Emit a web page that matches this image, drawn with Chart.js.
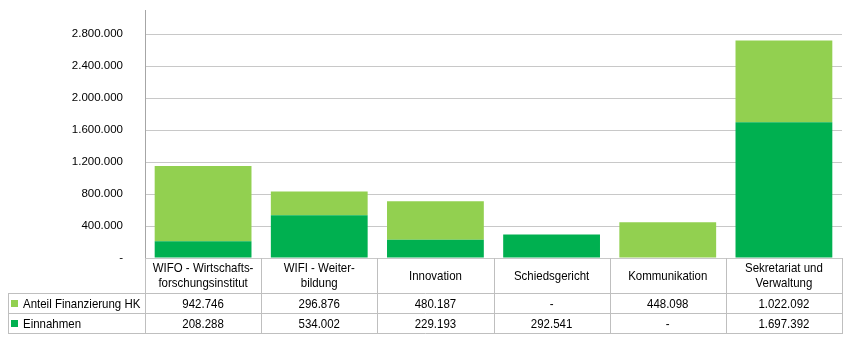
<!DOCTYPE html>
<html>
<head>
<meta charset="utf-8">
<script src="https://cdn.jsdelivr.net/npm/chart.js@4/dist/chart.umd.min.js"></script>
<style>
  html, body { margin: 0; padding: 0; background: #fff; }
  canvas { display: block; }
</style>
</head>
<body>
<canvas id="chart" width="850" height="342"></canvas>
<script>
const categories = [
    ['WIFO - Wirtschafts-', 'forschungsinstitut'],
    ['WIFI - Weiter-', 'bildung'],
    ['Innovation'],
    ['Schiedsgericht'],
    ['Kommunikation'],
    ['Sekretariat und', 'Verwaltung']
];
const anteilHK = [942746, 296876, 480187, null, 448098, 1022092];
const einnahmen = [208288, 534002, 229193, 292541, null, 1697392];
const yTicks = [0, 400000, 800000, 1200000, 1600000, 2000000, 2400000, 2800000];
const yMax = 3100000;

const lightGreen = '#92D050';
const darkGreen = '#00B050';
const lineGrey = '#BFBFBF';

function hasFont(name) {
    let c = document.createElement('canvas').getContext('2d');
    c.font = '40px monospace';
    let w1 = c.measureText('abcdefgWMil123').width;
    c.font = '40px "' + name + '", monospace';
    return c.measureText('abcdefgWMil123').width !== w1;
}

const narrow = hasFont('Liberation Sans Narrow');
const family = narrow ? '"Liberation Sans Narrow"' : '"Liberation Sans", Arial';
const tableSize = 13.5;
const squeeze = narrow ? 1 : 0.85;

function fmt(v) {
    if (v === null || v === 0) return '-';
    return String(v).replace(/\B(?=(\d{3})+(?!\d))/g, '.');
}

function text(ctx, str, x, y, align) {
    ctx.save();
    ctx.translate(x, y);
    ctx.scale(squeeze, 1);
    ctx.textAlign = align;
    ctx.fillText(str, 0, 0);
    ctx.restore();
}

const tablePlugin = {
    id: 'dataTable',
    afterDraw(chart) {
        const ctx = chart.ctx;
        const x = chart.scales.x;
        const ca = chart.chartArea;
        const colW = x.getPixelForValue(1) - x.getPixelForValue(0);
        const top = Math.round(ca.bottom);
        const headBottom = top + 35;
        const row1Bottom = headBottom + 20;
        const row2Bottom = row1Bottom + 20;
        const tableLeft = 8;

        ctx.save();
        ctx.strokeStyle = lineGrey;
        ctx.lineWidth = 1;
        ctx.beginPath();
        [headBottom, row1Bottom, row2Bottom].forEach(function (y) {
            ctx.moveTo(tableLeft, y + 0.5);
            ctx.lineTo(Math.round(ca.right) + 1, y + 0.5);
        });
        ctx.moveTo(tableLeft + 0.5, headBottom);
        ctx.lineTo(tableLeft + 0.5, row2Bottom + 1);
        for (let i = 0; i <= categories.length; i++) {
            let bx = Math.round(x.getPixelForValue(i) - colW / 2);
            ctx.moveTo(bx + 0.5, top);
            ctx.lineTo(bx + 0.5, row2Bottom + 1);
        }
        ctx.stroke();

        ctx.fillStyle = '#000';
        ctx.textBaseline = 'middle';
        ctx.font = tableSize + 'px ' + family;

        const headMid = (top + headBottom) / 2 + 0.5;
        categories.forEach(function (lines, i) {
            let cx = x.getPixelForValue(i);
            let start = headMid - (lines.length - 1) * 7.5;
            lines.forEach(function (l, j) {
                text(ctx, l, cx, start + j * 15, 'center');
            });
        });

        const rows = [
            { label: 'Anteil Finanzierung HK', data: anteilHK, color: lightGreen, mid: (headBottom + row1Bottom) / 2 + 1 },
            { label: 'Einnahmen', data: einnahmen, color: darkGreen, mid: (row1Bottom + row2Bottom) / 2 + 1 }
        ];
        rows.forEach(function (r) {
            ctx.fillStyle = r.color;
            ctx.fillRect(tableLeft + 3, Math.round(r.mid) - 4, 7, 7);
            ctx.fillStyle = '#000';
            text(ctx, r.label, tableLeft + 15, r.mid, 'left');
            r.data.forEach(function (v, i) {
                text(ctx, fmt(v), x.getPixelForValue(i), r.mid, 'center');
            });
        });
        ctx.restore();
    }
};

new Chart(document.getElementById('chart'), {
    type: 'bar',
    data: {
        labels: categories,
        datasets: [{
            label: 'Einnahmen',
            data: einnahmen,
            backgroundColor: darkGreen,
            barPercentage: 1,
            categoryPercentage: 1 / 1.2
        }, {
            label: 'Anteil Finanzierung HK',
            data: anteilHK,
            backgroundColor: lightGreen,
            barPercentage: 1,
            categoryPercentage: 1 / 1.2
        }]
    },
    options: {
        responsive: false,
        animation: false,
        devicePixelRatio: 1,
        layout: { padding: { top: 10, right: 8, bottom: 84, left: 0 } },
        plugins: { legend: { display: false }, tooltip: { enabled: false } },
        scales: {
            x: {
                display: false,
                stacked: true
            },
            y: {
                stacked: true,
                min: 0,
                max: yMax,
                afterBuildTicks(scale) {
                    scale.ticks = yTicks.map(v => ({ value: v }));
                },
                afterFit(scale) {
                    scale.width = 145;
                    scale.paddingTop = 0;
                    scale.paddingBottom = 0;
                },
                ticks: {
                    padding: 22,
                    color: '#000',
                    font: { family: family, size: narrow ? 13.5 : 11.5 },
                    callback: v => fmt(v)
                },
                grid: { color: '#C8C8C8', drawTicks: false },
                border: { color: '#A6A6A6' }
            }
        }
    },
    plugins: [tablePlugin]
});
</script>
</body>
</html>
